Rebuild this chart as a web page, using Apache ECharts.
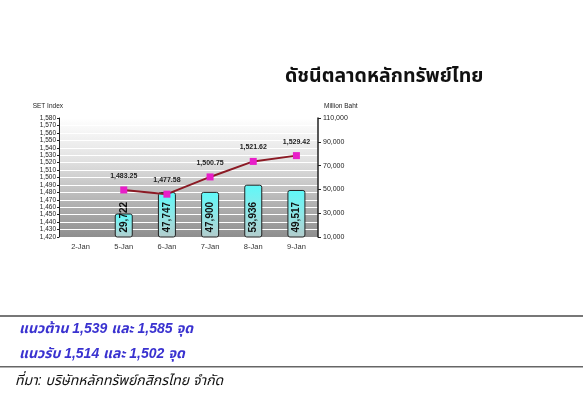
<!DOCTYPE html>
<html>
<head>
<meta charset="utf-8">
<script src="https://cdn.jsdelivr.net/npm/echarts@6/dist/echarts.min.js"></script>
<style>
html,body{margin:0;padding:0;background:#fff;}
#c{width:583px;height:420px;}
</style>
</head>
<body>
<div id="c"></div>
<script>
const categories = ['2-Jan', '5-Jan', '6-Jan', '7-Jan', '8-Jan', '9-Jan'];
const setIndex = [null, 1483.25, 1477.58, 1500.75, 1521.62, 1529.42];
const tradeValue = [null, 29722, 47747, 47900, 53936, 49517];
const titleText = 'ดัชนีตลาดหลักทรัพย์ไทย';
const leftAxisName = 'SET Index';
const rightAxisName = 'Million Baht';
const resistanceText = 'แนวต้าน 1,539 และ 1,585 จุด';
const supportText = 'แนวรับ 1,514 และ 1,502 จุด';
const sourceText = 'ที่มา: บริษัทหลักทรัพย์กสิกรไทย จำกัด';

const FONT = '"Liberation Sans", Arial, "Noto Sans Thai", "Noto Sans", sans-serif';
const fmt = v => v.toLocaleString('en-US');
const fmt2 = v => v.toLocaleString('en-US', {minimumFractionDigits: 2, maximumFractionDigits: 2});

const chart = echarts.init(document.getElementById('c'), null, {renderer: 'canvas'});
chart.setOption({
  animation: false,
  backgroundColor: '#fff',
  textStyle: {fontFamily: FONT},
  grid: {
    left: 59, right: 265, top: 118, bottom: 183,
    show: true, borderWidth: 0,
    backgroundColor: new echarts.graphic.LinearGradient(0, 0, 0, 1, [
      {offset: 0, color: '#ffffff'},
      {offset: 0.35, color: '#e2e2e2'},
      {offset: 1, color: '#8e8e8e'}
    ])
  },
  xAxis: {
    type: 'category', data: categories, boundaryGap: true,
    axisLine: {show: false}, axisTick: {show: false},
    axisLabel: {fontSize: 7.5, color: '#333', margin: 6, fontFamily: FONT}
  },
  yAxis: [{
    type: 'value', min: 1420, max: 1580, interval: 10,
    name: leftAxisName, nameLocation: 'end', nameGap: 8,
    nameTextStyle: {fontSize: 6.5, color: '#222', align: 'right', padding: [0, -4, 0, 0], fontFamily: FONT},
    axisLine: {show: true, lineStyle: {color: '#222', width: 1}},
    axisTick: {show: true, inside: false, length: 2, lineStyle: {color: '#222'}},
    axisLabel: {fontSize: 6.5, color: '#222', margin: 3, formatter: v => fmt(v), fontFamily: FONT},
    splitLine: {show: true, lineStyle: {color: '#ffffff', width: 1}}
  }, {
    type: 'value', min: 10000, max: 110000, interval: 20000,
    name: rightAxisName, nameLocation: 'end', nameGap: 8,
    nameTextStyle: {fontSize: 6.5, color: '#222', align: 'left', padding: [0, 0, 0, 6], fontFamily: FONT},
    position: 'right',
    axisLine: {show: true, lineStyle: {color: '#222', width: 1.5}},
    axisTick: {show: true, inside: false, length: 3, lineStyle: {color: '#222'}},
    axisLabel: {fontSize: 7, color: '#222', margin: 5, formatter: v => fmt(v), fontFamily: FONT},
    splitLine: {show: false}
  }],
  series: [{
    type: 'bar', yAxisIndex: 1, data: tradeValue, barWidth: 18, z: 2,
    itemStyle: {
      color: new echarts.graphic.LinearGradient(0, 0, 0, 1, [
        {offset: 0, color: '#5ef8f8'},
        {offset: 0.5, color: '#8ee8e8'},
        {offset: 1, color: '#b4cccc'}
      ]),
      borderColor: '#222', borderWidth: 1, borderRadius: 2
    },
    label: {
      show: true, position: 'insideBottom', rotate: 90, distance: 5,
      align: 'left', verticalAlign: 'middle',
      fontSize: 10, fontWeight: 'bold', color: '#111', fontFamily: FONT,
      formatter: p => fmt(p.value)
    }
  }, {
    type: 'line', yAxisIndex: 0, data: setIndex, z: 5,
    lineStyle: {color: '#8b1a24', width: 2},
    symbol: 'rect', symbolSize: 7,
    itemStyle: {color: '#e81ec8'},
    label: {
      show: true, position: 'top', distance: 7,
      fontSize: 7, fontWeight: 'bold', color: '#222', fontFamily: FONT,
      formatter: p => fmt2(p.value)
    }
  }],
  graphic: [
    {type: 'text', left: 285, top: 67, style: {text: titleText, fill: '#111', font: 'bold 19.5px ' + FONT}},
    {type: 'rect', shape: {x: 0, y: 315, width: 583, height: 2}, style: {fill: '#777'}},
    {type: 'text', left: 19, top: 322, style: {text: resistanceText, fill: '#3a32d0', font: 'italic bold 14px ' + FONT}},
    {type: 'text', left: 19, top: 347, style: {text: supportText, fill: '#3a32d0', font: 'italic bold 14px ' + FONT}},
    {type: 'rect', shape: {x: 0, y: 366, width: 583, height: 1.5}, style: {fill: '#666'}},
    {type: 'text', left: 15, top: 374, style: {text: sourceText, fill: '#111', font: 'italic 14px ' + FONT}}
  ]
});
</script>
</body>
</html>
